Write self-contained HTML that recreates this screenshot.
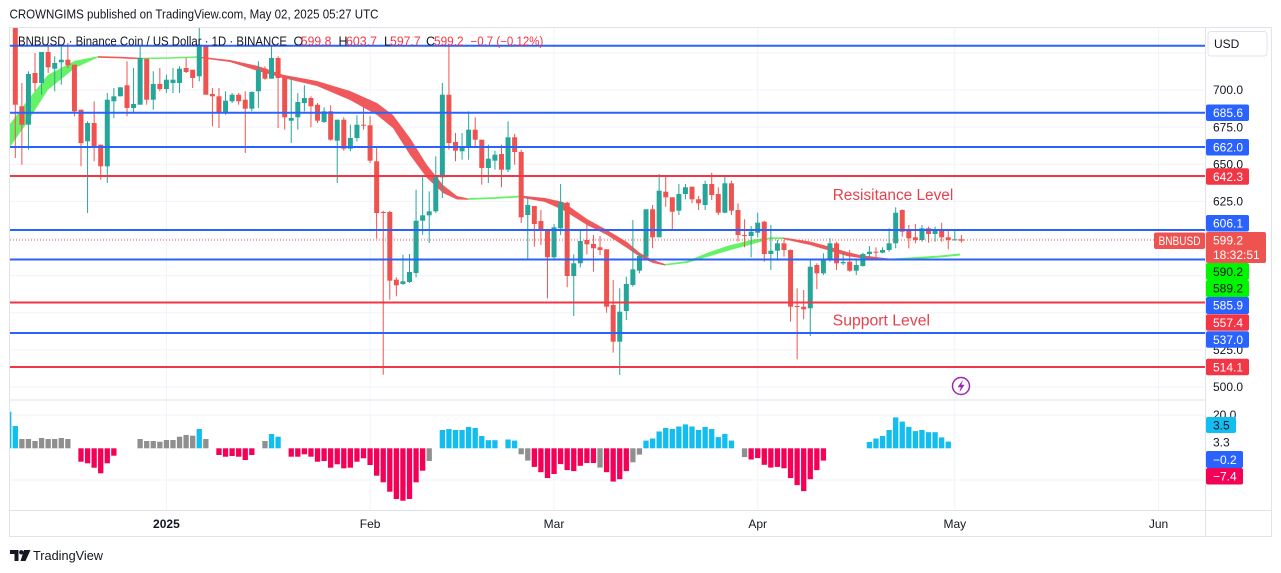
<!DOCTYPE html>
<html><head><meta charset="utf-8"><style>
html,body{margin:0;padding:0;background:#fff;}
svg{display:block;}
text{font-family:"Liberation Sans",Arial,sans-serif;}
</style></head><body>
<svg id="s" width="1281" height="573" viewBox="0 0 1281 573" xmlns="http://www.w3.org/2000/svg">
<defs>
<clipPath id="cm"><rect x="10" y="28" width="1195" height="372"/></clipPath>
<clipPath id="ch"><rect x="10" y="400" width="1195" height="110"/></clipPath>
</defs>
<rect width="1281" height="573" fill="#fff"/>
<text x="9.5" y="18.5" font-size="12.5" fill="#131722" textLength="369" lengthAdjust="spacingAndGlyphs">CROWNGIMS published on TradingView.com, May 02, 2025 05:27 UTC</text>

<!-- grid -->
<g stroke="#f0f3fa" stroke-width="1">
<line x1="10" x2="1205" y1="52.9" y2="52.9"/><line x1="10" x2="1205" y1="90" y2="90"/><line x1="10" x2="1205" y1="127.1" y2="127.1"/><line x1="10" x2="1205" y1="164.3" y2="164.3"/><line x1="10" x2="1205" y1="201.4" y2="201.4"/><line x1="10" x2="1205" y1="238.5" y2="238.5"/><line x1="10" x2="1205" y1="275.6" y2="275.6"/><line x1="10" x2="1205" y1="312.8" y2="312.8"/><line x1="10" x2="1205" y1="349.9" y2="349.9"/><line x1="10" x2="1205" y1="387" y2="387"/>
<line x1="10" x2="1205" y1="415" y2="415"/><line x1="10" x2="1205" y1="480" y2="480"/>
<line x1="166.4" x2="166.4" y1="28" y2="510"/><line x1="370.1" x2="370.1" y1="28" y2="510"/><line x1="554" x2="554" y1="28" y2="510"/><line x1="757.7" x2="757.7" y1="28" y2="510"/><line x1="954.8" x2="954.8" y1="28" y2="510"/><line x1="1158.5" x2="1158.5" y1="28" y2="510"/>
</g>

<!-- ribbon -->
<g clip-path="url(#cm)">
<polygon fill="#66f266" points="10,124 28,99.7 48,74.7 75,60.7 98,56.3 98,57.5 75,68 48,89.7 28,121.3 10,147"/>
<polyline fill="none" stroke="#f0595b" stroke-width="1.6" points="98,56.9 120,57.6 141,58.5"/>
<polyline fill="none" stroke="#66f266" stroke-width="1.6" points="141,58.5 170,58 198,57"/>
<polygon fill="#f0595b" points="198,56.5 230,60 258,66 283,74.7 317,81 350,91 377,103 393,115 410,138 427,165 443,185 457,196 468,198.5 468,199.8 457,199.5 443,193 427,178 410,155 393,128 377,115 350,100 317,86 283,78 258,71 230,62 198,57.8"/>
<polyline fill="none" stroke="#66f266" stroke-width="1.8" points="468,199 495,198 520,196.5"/>
<polygon fill="#f0595b" points="520,195.5 545,198 563,202 587,219 607,230 627,242 640,253 653,260 665,264 665,265.5 653,263 640,257 627,248 607,235 587,225 563,210 545,202 520,197.5"/>
<polygon fill="#66f266" points="665,264 687,261 707,253 727,246 753,239.5 770,237.5 770,239 753,244 727,251 707,257 687,263 665,265.5"/>
<polyline fill="none" stroke="#66f266" stroke-width="1.8" points="770,238.2 783,238.2"/>
<polygon fill="#f0595b" points="783,237.5 810,241.5 827,246 847,252 860,255 880,257.5 893,259 893,260.2 880,259.5 860,258 847,256 827,250 810,245 783,239"/>
<polyline fill="none" stroke="#66f266" stroke-width="2" points="893,259.5 917,258 940,256.5 960,254.5"/>
</g>

<g id="candles" clip-path="url(#cm)"></g>
<g id="hist" clip-path="url(#ch)"></g>

<!-- level lines -->
<g stroke-width="2">
<line x1="10" x2="1205" y1="45.7" y2="45.7" stroke="#2962ff"/>
<line x1="10" x2="1205" y1="112.7" y2="112.7" stroke="#2962ff"/>
<line x1="10" x2="1205" y1="147" y2="147" stroke="#2962ff"/>
<line x1="10" x2="1205" y1="176" y2="176" stroke="#f23645"/>
<line x1="10" x2="1205" y1="230" y2="230" stroke="#2962ff"/>
<line x1="10" x2="1205" y1="259.5" y2="259.5" stroke="#2962ff"/>
<line x1="10" x2="1205" y1="302.5" y2="302.5" stroke="#f23645"/>
<line x1="10" x2="1205" y1="333" y2="333" stroke="#2962ff"/>
<line x1="10" x2="1205" y1="367" y2="367" stroke="#f23645"/>
</g>
<line x1="10" x2="1154" y1="240" y2="240" stroke="#ef5350" stroke-width="1" stroke-dasharray="1 2"/>

<text x="832.7" y="200" font-size="15.5" fill="#e5424d" textLength="120.6" lengthAdjust="spacingAndGlyphs">Resisitance Level</text>
<text x="832.7" y="325.5" font-size="15.5" fill="#e5424d" textLength="97.3" lengthAdjust="spacingAndGlyphs">Support Level</text>

<circle cx="961" cy="386" r="8.5" fill="#fff" stroke="#9c27b0" stroke-width="1.5"/>
<path d="M962.8 380 L957.6 387.2 L960.8 387.2 L959.4 392.2 L964.6 384.8 L961.4 384.8 Z" fill="#9c27b0"/>

<!-- legend -->
<text y="45.3" font-size="12.5" fill="#131722">
<tspan x="18" textLength="269" lengthAdjust="spacingAndGlyphs">BNBUSD · Binance Coin / US Dollar · 1D · BINANCE</tspan>
<tspan x="293.5">O</tspan><tspan x="300.8" fill="#f23645" textLength="30.6" lengthAdjust="spacingAndGlyphs">599.8</tspan>
<tspan x="338.5">H</tspan><tspan x="346" fill="#f23645" textLength="31" lengthAdjust="spacingAndGlyphs">603.7</tspan>
<tspan x="384">L</tspan><tspan x="390" fill="#f23645" textLength="30.7" lengthAdjust="spacingAndGlyphs">597.7</tspan>
<tspan x="426">C</tspan><tspan x="434" fill="#f23645" textLength="29.6" lengthAdjust="spacingAndGlyphs">599.2</tspan>
<tspan x="470.5" fill="#f23645" textLength="72.8" lengthAdjust="spacingAndGlyphs">−0.7 (−0.12%)</tspan>
</text>

<!-- frame -->
<g stroke="#e0e3eb" stroke-width="1" fill="none">
<rect x="9.5" y="27.5" width="1262" height="509"/>
<line x1="1205.5" x2="1205.5" y1="28" y2="537"/>
<line x1="10" x2="1205" y1="400" y2="400"/>
<line x1="10" x2="1271" y1="510.5" y2="510.5"/>
</g>

<!-- price axis -->
<rect x="1208" y="31.5" width="59" height="24.5" rx="3" fill="#fff" stroke="#e0e3eb"/>
<text x="1214" y="48" font-size="12" fill="#131722">USD</text>
<g font-size="12" fill="#131722">
<text x="1213" y="94.2">700.0</text>
<text x="1213" y="131.3">675.0</text>
<text x="1213" y="168.5">650.0</text>
<text x="1213" y="205.6">625.0</text>
<text x="1213" y="354.1">525.0</text>
<text x="1213" y="391.2">500.0</text>
</g>
<g font-size="12">
<rect x="1206" y="104.5" width="43" height="16.5" rx="2" fill="#2962ff"/><text x="1213" y="117" fill="#fff">685.6</text>
<rect x="1206" y="139" width="43" height="16.5" rx="2" fill="#2962ff"/><text x="1213" y="151.6" fill="#fff">662.0</text>
<rect x="1206" y="168.3" width="43" height="16.5" rx="2" fill="#f23645"/><text x="1213" y="180.8" fill="#fff">642.3</text>
<rect x="1206" y="215" width="43" height="16.5" rx="2" fill="#2962ff"/><text x="1213" y="227.6" fill="#fff">606.1</text>
<rect x="1206" y="232" width="60" height="31" rx="2" fill="#ef5350"/><text x="1213" y="244.5" fill="#fff">599.2</text><text x="1213" y="259" fill="#fff">18:32:51</text>
<rect x="1154" y="232.5" width="51" height="16.5" rx="2" fill="#ef5350"/><text x="1158.5" y="245" fill="#fff" font-size="11.5" textLength="42" lengthAdjust="spacingAndGlyphs">BNBUSD</text>
<rect x="1206" y="263" width="43" height="17" rx="2" fill="#00f500"/><text x="1213" y="275.8" fill="#131722">590.2</text>
<rect x="1206" y="280" width="43" height="17" rx="2" fill="#00f500"/><text x="1213" y="292.7" fill="#131722">589.2</text>
<rect x="1206" y="297" width="43" height="17" rx="2" fill="#2962ff"/><text x="1213" y="309.7" fill="#fff">585.9</text>
<rect x="1206" y="314.3" width="43" height="16.5" rx="2" fill="#f23645"/><text x="1213" y="327" fill="#fff">557.4</text>
<rect x="1206" y="331.3" width="43" height="16.5" rx="2" fill="#2962ff"/><text x="1213" y="344" fill="#fff">537.0</text>
<rect x="1206" y="358.8" width="43" height="16.5" rx="2" fill="#f23645"/><text x="1213" y="371.5" fill="#fff">514.1</text>
</g>
<g font-size="12">
<text x="1213" y="419.2" fill="#131722">20.0</text>
<rect x="1206" y="417" width="30" height="16" rx="2" fill="#12bdf0"/><text x="1213" y="429.5" fill="#131722">3.5</text>
<text x="1213" y="446.5" fill="#131722">3.3</text>
<rect x="1206" y="451" width="37" height="17" rx="2" fill="#2962ff"/><text x="1213" y="464" fill="#fff">−0.2</text>
<rect x="1206" y="468" width="37" height="16.5" rx="2" fill="#f50057"/><text x="1213" y="480.5" fill="#fff">−7.4</text>
</g>

<!-- time axis -->
<g font-size="12" fill="#131722" text-anchor="middle">
<text x="166.4" y="528.2" font-weight="bold">2025</text>
<text x="370.1" y="528.2">Feb</text>
<text x="554" y="528.2">Mar</text>
<text x="757.7" y="528.2">Apr</text>
<text x="954.8" y="528.2">May</text>
<text x="1158.5" y="528.2">Jun</text>
</g>

<!-- logo -->
<g fill="#131722">
<path d="M10 550 H18.5 V561 H14.5 V554 H10 Z"/>
<circle cx="21.3" cy="552.3" r="2.2"/>
<path d="M24 550 H30.5 L25.5 561 H20.5 Z"/>
</g>
<text x="33" y="560" font-size="13" fill="#131722" textLength="70" lengthAdjust="spacingAndGlyphs">TradingView</text>
</svg>
<script>
(function(){
var C=[
['r',28,28,158,104.7],['r',106.3,83,164.7,124.7],['t',124.7,71.3,149.7,74],['r',73,53,91.3,83],['t',83,52,94.7,52],
['r',52,46.3,73,67.3],['t',68.7,56.3,91.3,63],['t',62.3,45.3,84.7,59.7],['r',59.7,43,68,65.3],['r',64.7,64.7,116.3,111.3],
['r',109.7,109.7,166.3,143],['t',141.3,121.3,213,123],['r',123,101.3,161.3,146.3],['r',144.7,144.7,179.7,166.3],['t',166.3,93,183,99.7],
['t',101.3,88,118,96.3],['t',96.3,87.3,96.3,87.3],['r',85.3,61.3,116.3,108],['t',108,68,113,104],['t',104.7,44.7,104.7,58],
['r',58.7,58.7,104.7,99.7],['t',99.7,71.3,109.7,84],['r',84,68,91.3,89],['t',89,74.7,93,79.7],['t',83,68,93,79.7],
['t',83,66.3,93,68.7],['r',68,58,73,72],['r',69.7,69.7,88,78],['t',76.3,28,81.3,44.7],['r',46.3,44.7,94.7,94.7],
['r',94,88,126.3,96.3],['r',96.3,88,128,113],['t',113,91.3,114.7,100.7],['t',101.3,93,103,94.7],['r',94.7,93,104.7,101.3],
['r',99.7,91.3,153,108.7],['t',108.7,91.3,111.3,92],['t',91.3,61.3,108,69.7],['r',68.7,66.3,79.7,78.7],['t',78.7,46.3,78.7,58],
['r',58,56.3,128,78],['r',77.3,77.3,129.7,117.3],['t',120.7,77.3,143,118],['t',117.3,93,129.7,102],['t',103,85.3,111.3,98],
['r',98,96.3,127.3,106.3],['r',104.7,103,123,120.7],['t',122,107.3,123,111.3],['r',111.3,105.3,140.7,139.7],['t',140.7,119.7,183,119.7],
['r',119.7,117.3,150.7,148.7],['t',148.7,124.7,151.3,138],['t',138,115.3,141.3,124.7],['r',124.7,105.3,129.7,125.3],['r',125.3,116.3,163,160.7],
['r',161.3,146.3,238.7,213],['r',212,210.7,374.7,213],['r',212,210.7,299.7,280.7],['r',279.7,277.3,296.3,285.3],['t',284,254.7,284.7,281.3],
['t',282,254,283,272],['t',273,189.7,277.3,220.7],['t',220.7,176.3,234.7,215.3],['t',215.3,191.3,243,211.3],['t',211.3,156.3,213,176.3],
['t',177.3,83,198,94.7],['r',94.7,46.3,149.7,143],['r',142,133,161.3,150.7],['t',151.3,133,159.7,146.3],['t',147.3,111.3,159.7,129.7],
['r',129.7,117.3,146.3,139.7],['r',139.7,139.7,184.7,168],['t',168,144.7,183,158.7],['t',160.7,150.7,169.7,154.7],['r',154,144.7,187.3,169.7],
['t',169.7,121.3,172,137.3],['r',137.3,134,164.7,152],['r',152,149.7,223,217.3],['t',215,196.7,260,205],['r',206,206,246.7,224],
['r',221,210,245,231],['r',230,230,298.3,257.3],['t',257.3,224,259.3,227.3],['t',228.3,184,235,202.7],['r',202.7,201.7,287.3,276],
['t',276,254.3,316,263.3],['t',263.3,231,267.3,241],['r',240,224,254.3,244.3],['r',244,235,271.7,248.3],['r',247.3,236,255,250],
['r',249.3,249.3,312.7,306.7],['r',305,280,352.7,341.7],['t',341.7,288.3,375,311.7],['t',311,276.7,320,284],['t',285,220,286.7,269.3],
['t',270.7,252.7,273.3,256],['t',256.7,209.3,257.3,209.3],['r',209.3,205,248.3,237.3],['t',237.3,174,237.3,190.7],['r',191.7,176,206.7,197.3],
['r',197.3,197.3,230.7,211.7],['t',210.7,184,215,194],['t',194,184,199.3,187.3],['r',186.7,186.7,203.3,199.3],['r',199.3,196,210,203.3],
['t',205,180.7,210,184],['r',184,172.7,200,195],['r',194,187.3,215,212.7],['t',212.7,176,213.3,183.3],['r',183.3,180.7,215,210.7],
['r',210,203.3,241.7,235],['r',235,219.3,247.3,236],['t',236,226,257.3,231.7],['t',232.7,212.7,237.3,222.7],['r',221.7,220.7,261.7,254],
['t',254,225,270,250.7],['t',250.7,240,260.7,243.3],['r',243.3,240,256.7,250],['r',250,249.3,321.7,306.7],['r',306,288.3,359.3,306.7],
['r',306.7,290,319.3,309.3],['t',308.3,260,336,266.7],['r',265,263.3,289.3,273.3],['t',273.3,253.3,275,259.3],['t',260,238.3,261.7,243.3],
['r',243.3,241.7,270,263.3],['t',263.3,253.3,265,262],['r',261.7,250,271.7,270.7],['t',270.7,260,275,265],['t',266,252.7,266.7,254],
['t',254,246,256.7,251.7],['r',251.7,247.3,257.3,252.7],['t',252.7,247.3,253.3,250],['t',250,228.3,251.7,243.3],['t',243.3,207.3,248.3,212.7],
['r',210,209.3,236.7,231.7],['r',230.7,225,248.3,238.3],['r',237.3,224,243.3,240],['t',240,225,241.7,228.3],['r',228.3,226.7,242.7,234],
['t',234,226.7,241.7,230],['r',230,222.7,241.7,237.3],['r',237.3,230,249.3,240],['t',240,230.7,240.7,239.3],['r',239.3,235,242.7,240.7]
];
var s='';
for(var i=0;i<C.length;i++){
 var d=C[i],x=15.3+6.57*i,col=d[0]=='r'?'#ef5350':'#26a69a';
 var o=d[1],h=d[2],l=d[3],c=d[4],t=Math.min(o,c),b=Math.max(o,c);
 s+='<line x1="'+x+'" x2="'+x+'" y1="'+h+'" y2="'+l+'" stroke="'+col+'" stroke-width="1"/>';
 s+='<rect x="'+(x-2.5)+'" y="'+t+'" width="5" height="'+Math.max(b-t,1)+'" fill="'+col+'"/>';
}
document.getElementById('candles').innerHTML=s;
var H={'-1':['c',411.7],0:['c',426],1:['g',439],2:['g',439],3:['g',441],4:['g',438],5:['g',439],6:['g',439],7:['g',438],8:['g',439],
10:['r',461.7],11:['r',463.3],12:['r',467.7],13:['r',473.3],14:['r',463.3],15:['r',455.7],
19:['g',439],20:['g',441],21:['g',441],22:['g',441.7],23:['g',440],24:['g',440],25:['g',436.7],26:['g',435],27:['g',435.7],28:['c',429],29:['g',439],
31:['r',455],32:['r',456.7],33:['r',456],34:['r',456.7],35:['r',460],36:['r',455],38:['g',441],39:['c',434],40:['c',436.7],
42:['r',456.7],43:['r',456.7],44:['r',454.3],45:['r',456.7],46:['r',461.7],47:['r',461],48:['r',467.7],49:['r',464.3],50:['r',468.3],51:['r',467.7],
52:['r',461.7],53:['r',458.3],54:['r',465],55:['r',475.7],56:['r',482.3],57:['r',491.7],58:['r',499],59:['r',500.7],60:['r',499],61:['r',482.3],62:['r',470.7],63:['g',461],
65:['c',430],66:['c',429],67:['c',430],68:['c',430],69:['c',426.9],70:['c',428],71:['c',436],72:['c',440.2],73:['c',440.2],75:['c',439.5],76:['c',440.6],
77:['g',454.3],78:['g',460.6],79:['r',466.9],80:['r',472.2],81:['r',478.1],82:['r',474],83:['r',464.1],84:['r',470.1],85:['r',471.1],86:['r',465.8],87:['r',463],88:['r',463],
89:['g',467.6],90:['r',472.2],91:['r',481.6],92:['r',479.2],93:['r',471.1],94:['g',462.3],95:['g',454.6],
96:['c',440.6],97:['c',438.5],98:['c',431.5],99:['c',428],100:['c',429],101:['c',426.5],102:['c',424.4],103:['c',426.5],104:['c',430],105:['c',426.9],106:['c',429],107:['c',437.1],108:['c',433.9],109:['c',440.6],
111:['g',457.1],112:['r',459.5],113:['r',458.1],114:['r',464.8],115:['r',467.6],116:['r',466.9],117:['r',468.3],118:['r',478.1],119:['r',485.1],120:['r',491.1],121:['r',479.2],122:['r',470.1],123:['r',460.6],
130:['c',442],131:['c',438.5],132:['c',436],133:['c',430],134:['c',417.4],135:['c',421.6],136:['c',426.9],137:['c',431.1],138:['c',430],139:['c',432.2],140:['c',432.2],141:['c',437.4],142:['c',441.6]};
var Z=448.3,cols={c:'#12bdf0',g:'#8f8f8f',r:'#f50057'},t2='';
for(var k in H){var v=H[k],x=15.3+6.57*parseInt(k,10),y=v[1],top=Math.min(y,Z),bt=Math.max(y,Z);
 t2+='<rect x="'+(x-2.65)+'" y="'+top+'" width="5.3" height="'+(bt-top)+'" fill="'+cols[v[0]]+'"/>';}
document.getElementById('hist').innerHTML=t2;
})();
</script>
</body></html>
